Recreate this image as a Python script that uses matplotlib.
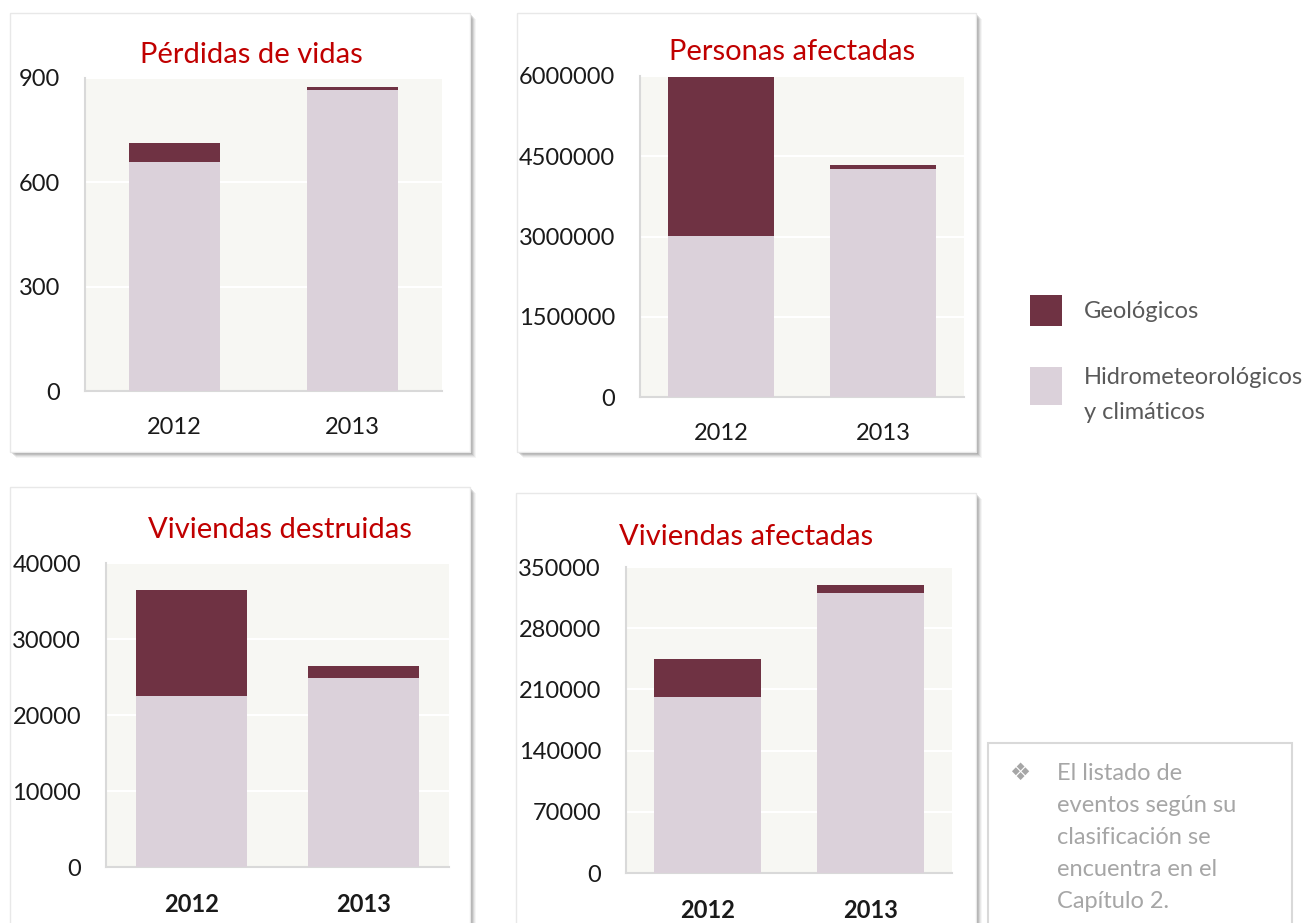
import matplotlib.pyplot as plt
from matplotlib.patches import Rectangle

plt.rcParams['font.family'] = ['Lato', 'DejaVu Sans']

# data
years = ['2012', '2013']
label_geo = 'Geológicos'
label_hidro = 'Hidrometeorológicos\ny climáticos'

perdidas_hidro = [659, 866]
perdidas_geo = [53, 7]
personas_hidro = [3006000, 4256000]
personas_geo = [2970000, 88000]
viv_destr_hidro = [22500, 24900]
viv_destr_geo = [13900, 1500]
viv_afect_hidro = [201000, 320000]
viv_afect_geo = [43500, 9000]

titles = ['Pérdidas de vidas', 'Personas afectadas',
          'Viviendas destruidas', 'Viviendas afectadas']
yticks_list = [[0, 300, 600, 900],
               [0, 1500000, 3000000, 4500000, 6000000],
               [0, 10000, 20000, 30000, 40000],
               [0, 70000, 140000, 210000, 280000, 350000]]
note = 'El listado de\neventos según su\nclasificación se\nencuentra en el\nCapítulo 2.'

c_geo = '#6F3243'
c_hidro = '#DBD1DA'
c_title = '#C00000'

W, H = 1315, 923
fig = plt.figure(figsize=(W / 100, H / 100), dpi=100)


def frac(x0, y0, x1, y1):
    return [x0 / W, 1 - y1 / H, (x1 - x0) / W, (y1 - y0) / H]


# background layer in pixel coords for boxes, legend and notes
bg = fig.add_axes([0, 0, 1, 1])
bg.set_xlim(0, W)
bg.set_ylim(H, 0)
bg.axis('off')

panels = [
    dict(box=(10, 13, 470, 452), ax=(85, 78, 442, 391), bw=0.51,
         tx=251, ty=55, bold=False, hidro=perdidas_hidro, geo=perdidas_geo),
    dict(box=(517, 13, 976, 452), ax=(640, 76, 964, 397), bw=0.66,
         tx=792, ty=52, bold=False, hidro=personas_hidro, geo=personas_geo),
    dict(box=(10, 487, 470, 940), ax=(106, 563, 449, 867), bw=0.65,
         tx=280, ty=530, bold=True, hidro=viv_destr_hidro, geo=viv_destr_geo),
    dict(box=(516, 493, 976, 940), ax=(626, 567, 952, 873), bw=0.66,
         tx=746, ty=537, bold=True, hidro=viv_afect_hidro, geo=viv_afect_geo),
]

for p in panels:
    x0, y0, x1, y1 = p['box']
    # fake soft shadow
    for d, a in [(6, 0.06), (5, 0.09), (4, 0.13), (3, 0.18), (2, 0.2)]:
        bg.add_patch(Rectangle((x0 + d, y0 + d), x1 - x0, y1 - y0,
                               facecolor='#606060', edgecolor='none', alpha=a))
    bg.add_patch(Rectangle((x0, y0), x1 - x0, y1 - y0,
                           facecolor='white', edgecolor='#E8E8E8', lw=1))

for i, p in enumerate(panels):
    ax = fig.add_axes(frac(*p['ax']))
    ax.set_facecolor('#F7F7F3')
    xs = range(len(years))
    ax.bar(xs, p['hidro'], width=p['bw'], color=c_hidro, zorder=3)
    ax.bar(xs, p['geo'], bottom=p['hidro'], width=p['bw'], color=c_geo, zorder=3)
    yt = yticks_list[i]
    ax.set_ylim(0, yt[-1])
    ax.set_xlim(-0.5, 1.5)
    ax.set_yticks(yt)
    ax.set_yticklabels([str(v) for v in yt])
    ax.set_xticks(list(xs))
    ax.set_xticklabels(years, fontweight='bold' if p['bold'] else 'normal')
    ax.grid(axis='y', color='white', lw=1.5, zorder=1)
    for s in ['top', 'right']:
        ax.spines[s].set_visible(False)
    for s in ['left', 'bottom']:
        ax.spines[s].set_color('#D9D9D9')
        ax.spines[s].set_linewidth(1.5)
    ax.tick_params(axis='y', length=0, pad=18, labelsize=17, labelcolor='#1a1a1a')
    ax.tick_params(axis='x', length=0, pad=19, labelsize=17, labelcolor='#1a1a1a')
    bg.text(p['tx'], p['ty'], titles[i], color=c_title, fontsize=21,
            ha='center', va='center')

# legend
bg.add_patch(Rectangle((1030, 295), 32, 31, facecolor=c_geo, edgecolor='none'))
bg.add_patch(Rectangle((1030, 367), 32, 38, facecolor=c_hidro, edgecolor='none'))
bg.text(1084, 311, label_geo, fontsize=17, color='#595959', va='center')
bg.text(1084, 395, label_hidro, fontsize=17, color='#595959', va='center',
        linespacing=1.79)

# note box
bg.add_patch(Rectangle((988, 743), 304, 200, facecolor='white',
                       edgecolor='#D9D9D9', lw=1.5))
bg.text(1020, 773, '\u2756', fontsize=17, color='#A6A6A6', ha='center', va='center')
bg.text(1057, 763, note, fontsize=17, color='#A6A6A6', va='top', linespacing=1.65)

fig.savefig('out.png', dpi=100)
